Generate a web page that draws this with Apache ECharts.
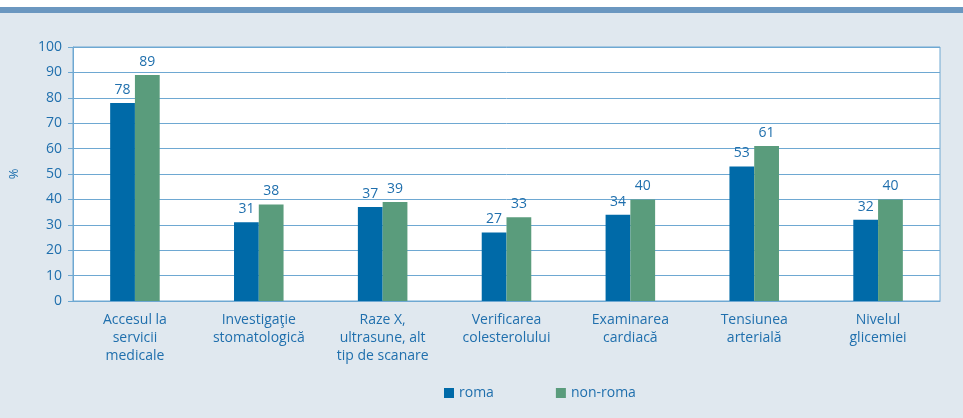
<!DOCTYPE html>
<html>
<head>
<meta charset="utf-8">
<script src="https://cdn.jsdelivr.net/npm/echarts@6/dist/echarts.min.js"></script>
<style>
  html, body { margin: 0; padding: 0; background: #fff; }
  #chart { width: 963px; height: 418px; }
</style>
</head>
<body>
<div id="chart"></div>
<script>
const categories = [
  'Accesul la\nservicii\nmedicale',
  'Investigaţie\nstomatologică',
  'Raze X,\nultrasune, alt\ntip de scanare',
  'Verificarea\ncolesterolului',
  'Examinarea\ncardiacă',
  'Tensiunea\narterială',
  'Nivelul\nglicemiei'
]
const romaValues = [78, 31, 37, 27, 34, 53, 32]
const nonRomaValues = [89, 38, 39, 33, 40, 61, 40]

const textBlue = '#1f6fad'
const lineBlue = '#6ea8d2'
const font = 'Open Sans'

const chart = echarts.init(document.getElementById('chart'))

const labelStyle = {
  show: true,
  position: 'top',
  distance: 6,
  color: textBlue,
  fontFamily: font,
  fontSize: 14
}

chart.setOption({
  backgroundColor: '#e0e8ef',
  animation: false,
  graphic: [
    { type: 'rect', left: 0, top: 0, shape: { width: 963, height: 7 }, style: { fill: '#ffffff' } },
    { type: 'rect', left: 0, top: 7, shape: { width: 963, height: 6 }, style: { fill: '#6b97c0' } }
  ],
  legend: {
    bottom: 13,
    left: 439,
    itemWidth: 10,
    itemHeight: 10,
    itemGap: 62,
    icon: 'rect',
    textStyle: { color: textBlue, fontFamily: font, fontSize: 14 },
    data: ['roma', 'non-roma']
  },
  grid: {
    left: 68,
    right: 23,
    top: 47,
    bottom: 117,
    show: true,
    backgroundColor: '#ffffff',
    borderColor: lineBlue,
    borderWidth: 1
  },
  xAxis: {
    type: 'category',
    data: categories,
    axisLine: { lineStyle: { color: lineBlue } },
    axisTick: { show: false },
    axisLabel: {
      interval: 0,
      color: textBlue,
      fontFamily: font,
      fontSize: 14,
      lineHeight: 18,
      margin: 10
    }
  },
  yAxis: {
    type: 'value',
    min: 0,
    max: 100,
    interval: 10,
    name: '%',
    nameLocation: 'middle',
    nameGap: 52,
    nameTextStyle: { color: textBlue, fontFamily: font, fontSize: 13 },
    axisLine: { show: true, lineStyle: { color: lineBlue } },
    axisTick: { show: true, length: 5, lineStyle: { color: lineBlue } },
    axisLabel: { color: textBlue, fontFamily: font, fontSize: 14, margin: 11 },
    splitLine: { lineStyle: { color: lineBlue, width: 1 } }
  },
  series: [
    {
      name: 'roma',
      type: 'bar',
      data: romaValues,
      barWidth: '20%',
      barGap: 0,
      itemStyle: { color: '#006aa8' },
      label: labelStyle
    },
    {
      name: 'non-roma',
      type: 'bar',
      data: nonRomaValues,
      barWidth: '20%',
      itemStyle: { color: '#5a9c7c' },
      label: labelStyle
    }
  ]
})
</script>
</body>
</html>
